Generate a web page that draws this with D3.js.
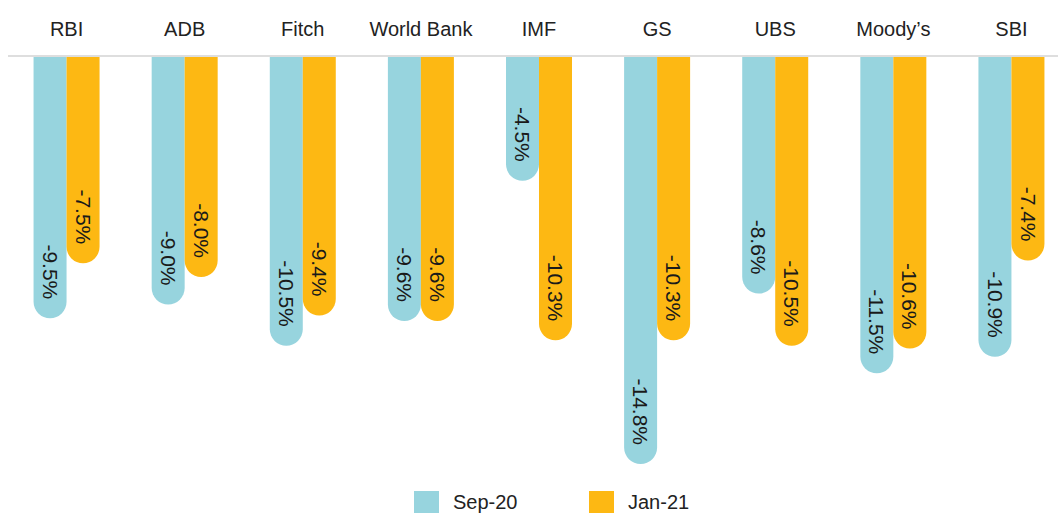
<!DOCTYPE html>
<html>
<head>
<meta charset="utf-8">
<script src="https://cdn.jsdelivr.net/npm/d3@7"></script>
<style>
  html, body { margin: 0; padding: 0; background: #fff; }
  svg { display: block; }
  text { font-family: "Liberation Sans", Arial, sans-serif; }
</style>
</head>
<body>
<svg id="chart" width="1058" height="513"></svg>
<script>
const categories = ["RBI", "ADB", "Fitch", "World Bank", "IMF", "GS", "UBS", "Moody\u2019s", "SBI"];
const seriesNames = ["Sep-20", "Jan-21"];
const sep20 = [-9.5, -9.0, -10.5, -9.6, -4.5, -14.8, -8.6, -11.5, -10.9];
const jan21 = [-7.5, -8.0, -9.4, -9.6, -10.3, -10.3, -10.5, -10.6, -7.4];
const colors = ["#97D4DE", "#FDB813"];

const svg = d3.select("#chart");
const W = 1058, H = 513;
const baseY = 57;

const x = d3.scaleBand().domain(categories).range([7.5, 1070.5]).padding(0);
const inner = d3.scaleBand().domain(seriesNames).range([0, 66]).padding(0);
const y = d3.scaleLinear().domain([0, -16]).range([baseY, baseY + 16 * 27.5]);

// category labels
svg.append("g").selectAll("text").data(categories).join("text")
  .attr("x", d => x(d) + x.bandwidth() / 2)
  .attr("y", 36)
  .attr("text-anchor", "middle")
  .attr("font-size", 20)
  .attr("fill", "#222")
  .text(d => d);

// baseline
svg.append("line")
  .attr("x1", 8).attr("x2", W)
  .attr("y1", baseY - 1).attr("y2", baseY - 1)
  .attr("stroke", "#dedede").attr("stroke-width", 2);

const data = [];
categories.forEach((c, i) => {
  data.push({ cat: c, s: seriesNames[0], v: sep20[i], color: colors[0] });
  data.push({ cat: c, s: seriesNames[1], v: jan21[i], color: colors[1] });
});

function barX(d) {
  return x(d.cat) + (x.bandwidth() - 66) / 2 + inner(d.s);
}

function barPath(d) {
  const bw = inner.bandwidth();
  const x0 = barX(d);
  const yb = y(d.v);
  const r = bw / 2;
  return `M${x0},${baseY} V${yb - r} A${r},${r} 0 0 0 ${x0 + bw},${yb - r} V${baseY} Z`;
}

const g = svg.append("g");
g.selectAll("path").data(data).join("path")
  .attr("d", barPath)
  .attr("fill", d => d.color);

g.selectAll("text").data(data).join("text")
  .attr("transform", d => {
    const cx = barX(d) + inner.bandwidth() / 2;
    const yb = y(d.v) - 19;
    return `translate(${cx},${yb}) rotate(90)`;
  })
  .attr("text-anchor", "end")
  .attr("dy", "0.35em")
  .attr("font-size", 21)
  .attr("fill", "#1a1a1a")
  .text(d => d.v.toFixed(1) + "%");

// legend
const legend = svg.append("g");
const legendX = [414, 589];
seriesNames.forEach((s, i) => {
  legend.append("rect")
    .attr("x", legendX[i]).attr("y", 491)
    .attr("width", 25).attr("height", 25)
    .attr("fill", colors[i]);
  legend.append("text")
    .attr("x", legendX[i] + 39).attr("y", 509)
    .attr("font-size", 20)
    .attr("fill", "#222")
    .text(s);
});
</script>
</body>
</html>
